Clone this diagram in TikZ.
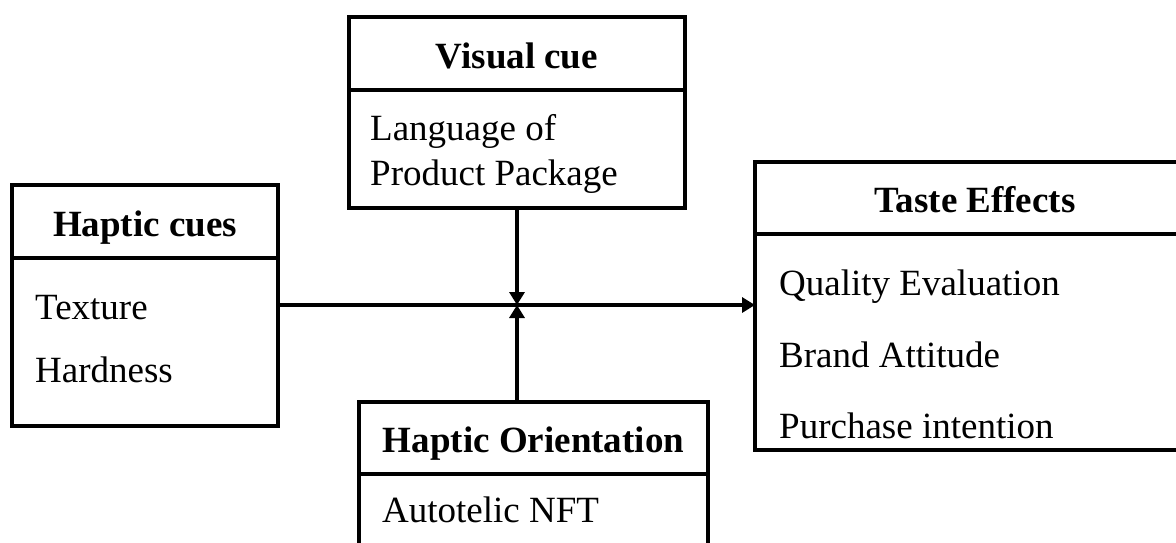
\documentclass[tikz,border=0pt]{standalone}
\usepackage{fontspec}
\setmainfont{Liberation Serif}
\usetikzlibrary{arrows.meta}

\newcommand{\cuefont}{\fontsize{37}{44}\selectfont}

\tikzset{
    head/.style={draw, line width=4pt, outer sep=0pt, inner sep=0pt, anchor=north west,
        font=\cuefont\bfseries, text height=29pt, text depth=0pt},
    part/.style={draw, line width=4pt, outer sep=0pt, inner sep=0pt, anchor=north west},
    item/.style={anchor=base west, inner sep=0pt, font=\cuefont},
    link/.style={line width=4pt, -{Triangle[length=13pt, width=15pt]}}
}

\begin{document}
\begin{tikzpicture}[x=1pt, y=-1pt]
    \useasboundingbox (0,0) rectangle (1176,542);
    \clip (0,0) rectangle (1176,542);

    \node [head, minimum width=336pt, minimum height=73pt] (vchead) at (349, 17) {Visual cue};
    \node [part, minimum width=336pt, minimum height=118pt] (vcbody) at (vchead.south west) {};
    \node [item] (vc1) at (370, 140) {Language of};
    \node [item] (vc2) at (370, 185) {Product Package};

    \node [head, minimum width=266pt, minimum height=73pt] (hchead) at (12, 185) {Haptic cues};
    \node [part, minimum width=266pt, minimum height=168pt] (hcbody) at (hchead.south west) {};
    \node [item] (hc1) at (35, 319) {Texture};
    \node [item] (hc2) at (35, 382) {Hardness};

    \node [head, minimum width=349pt, minimum height=72pt] (hohead) at (359, 402) {Haptic Orientation};
    \node [part, minimum width=349pt, minimum height=100pt] (hobody) at (hohead.south west) {};
    \node [item] (ho1) at (382, 522) {Autotelic NFT};

    \node [head, minimum width=440pt, minimum height=72pt] (tehead) at (755, 162) {Taste Effects};
    \node [part, minimum width=440pt, minimum height=216pt] (tebody) at (tehead.south west) {};
    \node [item] (te1) at (779, 295) {Quality Evaluation};
    \node [item] (te2) at (779, 367) {Brand Attitude};
    \node [item] (te3) at (779, 438) {Purchase intention};

    \coordinate (mid) at (517, 305);
    \draw [link] (hcbody.east |- mid) to (tebody.west |- mid);
    \draw [link] (vcbody.south -| mid) to (mid);
    \draw [link] (mid |- hohead.north) to (mid);
\end{tikzpicture}
\end{document}
